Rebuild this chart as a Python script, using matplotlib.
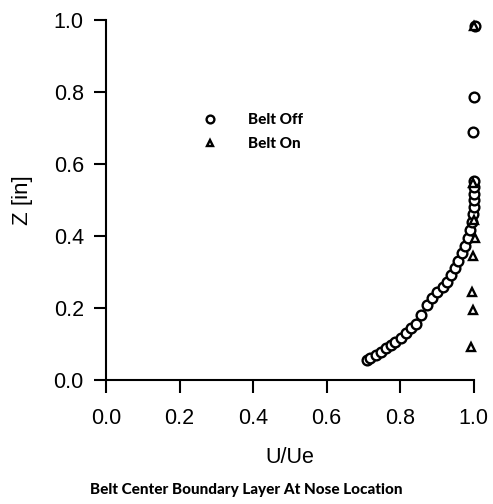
import matplotlib.pyplot as plt

# Perfil de capa limite, correa apagada (circulos)
off_u = [0.710, 0.719, 0.733, 0.747, 0.760, 0.774, 0.787, 0.801, 0.815, 0.828,
         0.842, 0.856, 0.874, 0.887, 0.901, 0.915, 0.926, 0.937, 0.948, 0.958,
         0.967, 0.975, 0.983, 0.990, 0.995, 0.998, 1.000, 1.000, 1.000, 1.000,
         1.000, 0.998, 1.000, 1.002]
off_z = [0.056, 0.060, 0.069, 0.079, 0.088, 0.097, 0.106, 0.118, 0.130, 0.144,
         0.157, 0.181, 0.208, 0.227, 0.245, 0.259, 0.273, 0.292, 0.311, 0.330,
         0.352, 0.372, 0.395, 0.418, 0.440, 0.462, 0.482, 0.500, 0.518, 0.536,
         0.553, 0.690, 0.787, 0.985]

# Correa encendida (triangulos)
on_u = [1.000, 0.998, 1.000, 1.003, 0.997, 0.995, 0.997, 0.992]
on_z = [0.985, 0.547, 0.444, 0.394, 0.345, 0.244, 0.194, 0.092]

fig = plt.figure(figsize=(4.93, 5.04), dpi=100)
ax = fig.add_axes([0.215, 0.246, 0.746, 0.714])

ax.plot(off_u, off_z, 'o', ms=7, mfc='white', mec='black', mew=1.7,
        clip_on=False, label='Belt Off')
ax.plot(on_u, on_z, '^', ms=5.5, mfc='white', mec='black', mew=1.7,
        clip_on=False, label='Belt On')

ax.set_xlim(0, 1)
ax.set_ylim(0, 1)
ax.set_xticks([0.0, 0.2, 0.4, 0.6, 0.8, 1.0])
ax.set_yticks([0.0, 0.2, 0.4, 0.6, 0.8, 1.0])
ax.set_xticklabels(['0.0', '0.2', '0.4', '0.6', '0.8', '1.0'])
ax.set_yticklabels(['0.0', '0.2', '0.4', '0.6', '0.8', '1.0'])

for s in ['top', 'right']:
    ax.spines[s].set_visible(False)
for s in ['left', 'bottom']:
    ax.spines[s].set_linewidth(1.5)

ax.tick_params(direction='out', length=9, width=1.5, labelsize=15.5)
ax.tick_params(axis='x', pad=11)
ax.tick_params(axis='y', pad=7)
for t in ax.get_xticklabels() + ax.get_yticklabels():
    t.set_family('Liberation Sans')

ax.set_xlabel('U/Ue', fontsize=15.5, family='Liberation Sans', labelpad=13)
ax.set_ylabel('Z [in]', fontsize=16, family='Liberation Sans', labelpad=15)

leg = ax.legend(loc='upper left', bbox_to_anchor=(0.225, 0.78), frameon=False,
                prop={'family': 'Lato', 'weight': 'black', 'size': 11},
                handletextpad=2.0, labelspacing=0.65, handlelength=1.0,
                markerscale=0.8)

fig.text(0.5, 1 - 490 / 504, 'Belt Center Boundary Layer At Nose Location',
         ha='center', va='center', fontsize=11, family='Lato', weight='black')

plt.savefig('out.png', dpi=100)
plt.close()
